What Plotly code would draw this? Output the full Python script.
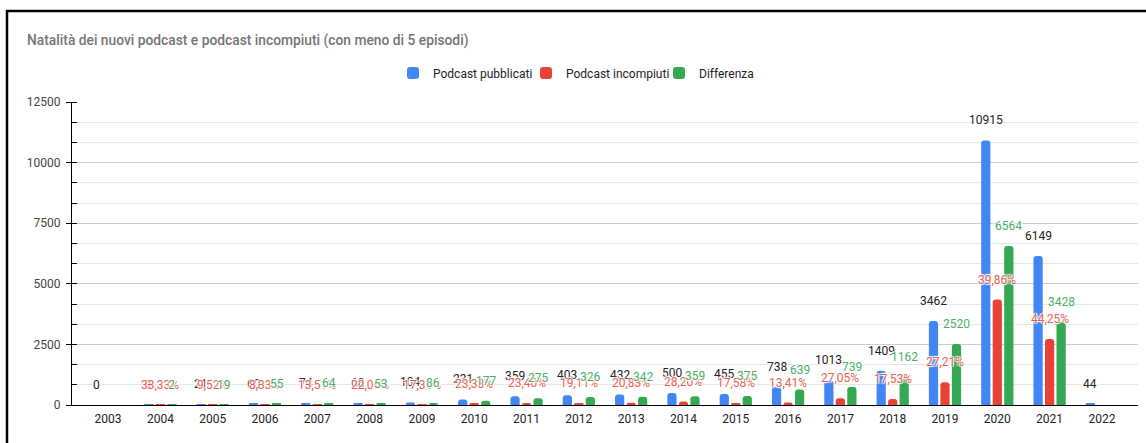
import plotly.graph_objects as go

years = [str(y) for y in range(2003, 2023)]
pubblicati = [0, 3, 21, 60, 74, 68, 104, 231, 359, 403, 432, 500, 455, 738, 1013, 1409, 3462, 10915, 6149, 44]
incompiuti = [None, 1, 2, 5, 10, 15, 18, 54, 84, 77, 90, 141, 80, 99, 274, 247, 942, 4351, 2721, None]
differenza = [None, 2, 19, 55, 64, 53, 86, 177, 275, 326, 342, 359, 375, 639, 739, 1162, 2520, 6564, 3428, None]
y_ticks = [0, 2500, 5000, 7500, 10000, 12500]

series_names = ["Podcast pubblicati", "Podcast incompiuti", "Differenza"]
bar_colors = ["#4285f4", "#ea4335", "#34a853"]
label_colors = ["#222222", "#ee5e50", "#4caf65"]

def pct_label(n, d):
    if n is None or not d:
        return None
    return f"{100 * n / d:.2f}".replace(".", ",") + "%"

pct_labels = [pct_label(n, d) for n, d in zip(incompiuti, pubblicati)]

fig = go.Figure()
for name, vals, col in zip(series_names, [pubblicati, incompiuti, differenza], bar_colors):
    fig.add_trace(go.Bar(x=years, y=vals, name=name, marker=dict(color=col, line=dict(width=0)),
                         hoverinfo="skip"))

halo = "1px 1px 1px #fff, -1px -1px 1px #fff, 1px -1px 1px #fff, -1px 1px 1px #fff"
offsets = [-11.5, 0, 11.5]
label_sets = [
    [None if v is None else str(v) for v in pubblicati],
    pct_labels,
    [None if v is None else str(v) for v in differenza],
]
value_sets = [pubblicati, incompiuti, differenza]
annots = []
for k in range(3):
    for i, yr in enumerate(years):
        txt = label_sets[k][i]
        val = value_sets[k][i]
        if txt is None or val is None:
            continue
        annots.append(dict(x=i, y=val, xref="x", yref="y", text=txt, showarrow=False,
                           xshift=offsets[k], yshift=20, yanchor="middle", xanchor="center",
                           font=dict(family="Roboto", size=12, color=label_colors[k], shadow=halo)))

# frame of the screenshot (left and top borders)
W, H = 1146, 443
ml, mr, mt, mb = 72, 8, 102, 38
pw, ph = W - ml - mr, H - mt - mb
def px_x(p):
    return (p - ml) / pw
def px_y(p):
    return 1 - (p - mt) / ph
shapes = [
    dict(type="line", xref="paper", yref="paper", x0=px_x(7), x1=px_x(7), y0=px_y(10), y1=px_y(H + 5),
         line=dict(color="black", width=2.5)),
    dict(type="line", xref="paper", yref="paper", x0=px_x(6), x1=px_x(W + 5), y0=px_y(11), y1=px_y(11),
         line=dict(color="black", width=2.5)),
]

fig.update_layout(
    width=W, height=H,
    margin=dict(l=ml, r=mr, t=mt, b=mb),
    paper_bgcolor="white", plot_bgcolor="white",
    font=dict(family="Roboto", size=12, color="#222222"),
    annotations=annots,
    shapes=shapes,
    title=dict(text="Natalità dei nuovi podcast e podcast incompiuti (con meno di 5 episodi)",
               x=27 / W, xanchor="left", xref="container", y=1 - 40 / H, yanchor="middle", yref="container",
               font=dict(family="Roboto", size=13.8, color="#757575", weight=500)),
    legend=dict(orientation="h", xref="container", yref="container", x=393 / W, xanchor="left",
                y=1 - 73 / H, yanchor="middle", font=dict(size=12, color="#222222"),
                itemwidth=30, traceorder="normal", entrywidth=88, entrywidthmode="pixels"),
    barmode="group", bargap=0.34, bargroupgap=0.2, barcornerradius=3,
    showlegend=True,
    xaxis=dict(type="category", range=[-0.69, 19.69], showline=True, linecolor="black", linewidth=1,
               ticks="", showgrid=False, tickfont=dict(size=12, color="#222222"), fixedrange=True,
               ticklabelstandoff=3),
    yaxis=dict(range=[0, 12500], tickvals=y_ticks, ticktext=[str(v) for v in y_ticks],
               showline=True, linecolor="black", linewidth=1,
               ticks="outside", ticklen=5, tickcolor="black", showgrid=True, gridcolor="#cccccc",
               zeroline=False, tickfont=dict(size=12, color="#444444"), ticklabelstandoff=3,
               minor=dict(dtick=2500 / 3, tick0=0, showgrid=True, gridcolor="#e6e6e6",
                          ticks="inside", ticklen=5, tickcolor="black")),
)

fig.write_html("out.html", config={"displayModeBar": False},
               post_script="document.body.style.margin='0';")
